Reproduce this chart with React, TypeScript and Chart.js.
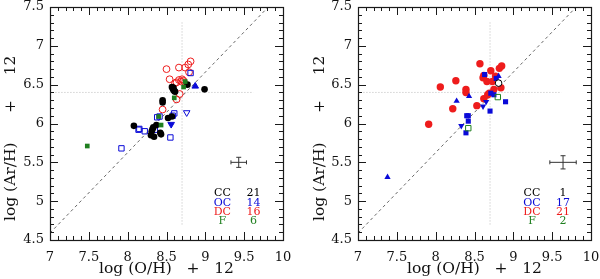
import { useEffect, useRef } from "react";
import { Chart, registerables } from "chart.js";
Chart.register(...registerables);

type Pt = [number, number];

const X_MIN = 7, X_MAX = 10, Y_MIN = 4.5, Y_MAX = 7.5;
const xTickLabels = ["7", "7.5", "8", "8.5", "9", "9.5", "10"];
const yTickLabels = ["4.5", "5", "5.5", "6", "6.5", "7", "7.5"];
const xTitle = "log (O/H)   +   12";
const yTitle = "log (Ar/H)      +     12      ";

const groupNames = ["CC", "OC", "DC", "F"];
const groupColors = ["#000000", "#0a0ad8", "#ee1c1c", "#1f7f1f"];
const leftCounts = [21, 14, 16, 6];
const rightCounts = [1, 17, 21, 2];
const legendRowsY = [5.1, 4.98, 4.86, 4.74];

// reference lines
const diagonalLine: Pt[] = [[7, 4.59], [9.81, 7.5]];
const hLine: Pt[] = [[7.07, 6.4], [9.62, 6.4]];
const vLine: Pt[] = [[8.7, 4.7], [8.7, 7.3]];

// error bars: [x, y, dx, dy]
const leftErrorBar = [9.43, 5.5, 0.1, 0.065];
const rightErrorBar = [9.64, 5.5, 0.17, 0.085];

// ---- left panel ----
const leftCC: Pt[] = [
  [8.08, 5.97], [8.3, 5.85], [8.34, 5.83], [8.31, 5.9], [8.33, 5.95], [8.37, 5.98],
  [8.43, 5.86], [8.42, 5.88], [8.52, 6.07], [8.57, 6.09], [8.45, 6.3], [8.45, 6.27],
  [8.57, 6.47], [8.58, 6.45], [8.59, 6.43], [8.6, 6.42], [8.61, 6.41], [8.77, 6.5],
  [8.99, 6.44], [8.32, 5.93], [8.59, 6.46],
];
const leftOC: Pt[] = [
  [7.92, 5.68], [8.14, 5.92], [8.15, 5.93], [8.22, 5.9], [8.35, 5.92], [8.38, 6.08],
  [8.55, 5.82], [8.58, 6.1], [8.6, 6.13], [8.81, 6.65], [8.87, 6.48], [8.76, 6.14],
  [8.56, 5.99], [8.41, 6.09],
];
const leftOCShapes = ["rect", "rect", "rect", "rect", "rect", "rect", "rect", "rect", "rect", "rect", "triangle", "triangle", "triangle", "rect"];
const leftOCRotation = [0, 0, 0, 0, 0, 0, 0, 0, 0, 0, 0, 180, 180, 0];
const leftOCFilled = [false, false, false, false, false, false, false, false, false, false, true, false, true, false];
const leftDC: Pt[] = [
  [8.5, 6.7], [8.66, 6.72], [8.74, 6.72], [8.78, 6.76], [8.81, 6.8], [8.79, 6.66],
  [8.54, 6.57], [8.63, 6.53], [8.66, 6.56], [8.69, 6.54], [8.72, 6.55], [8.67, 6.38],
  [8.63, 6.31], [8.45, 6.18], [8.61, 6.52], [8.7, 6.57],
];
const leftF: Pt[] = [
  [7.48, 5.71], [8.43, 5.98], [8.4, 6.09], [8.6, 6.33], [8.72, 6.47], [8.74, 6.54],
];

// ---- right panel ----
const rightCC: Pt[] = [[8.81, 6.52]];
const rightOC: Pt[] = [
  [7.38, 5.31], [8.33, 5.97], [8.39, 5.88], [8.4, 6.1], [8.42, 6.1], [8.42, 6.03],
  [8.27, 6.29], [8.43, 6.35], [8.61, 6.22], [8.65, 6.28], [8.7, 6.16], [8.71, 6.39],
  [8.75, 6.37], [8.9, 6.28], [8.63, 6.63], [8.78, 6.58], [8.81, 6.61],
];
const rightOCShapes = ["triangle", "triangle", "rect", "rect", "rect", "rect", "triangle", "triangle", "triangle", "triangle", "rect", "rect", "rect", "rect", "rect", "rect", "triangle"];
const rightOCRotation = [0, 180, 0, 0, 0, 0, 0, 0, 180, 180, 0, 0, 0, 0, 0, 0, 0];
const rightDC: Pt[] = [
  [7.91, 5.99], [8.06, 6.47], [8.26, 6.55], [8.22, 6.19], [8.39, 6.44], [8.39, 6.4],
  [8.53, 6.23], [8.57, 6.77], [8.61, 6.59], [8.62, 6.62], [8.66, 6.54], [8.62, 6.32],
  [8.67, 6.37], [8.69, 6.39], [8.71, 6.68], [8.73, 6.54], [8.75, 6.44], [8.77, 6.61],
  [8.82, 6.71], [8.85, 6.74], [8.84, 6.46],
];
const rightF: Pt[] = [[8.42, 5.94], [8.8, 6.34]];

const toXY = (arr: Pt[]) => arr.map(([x, y]) => ({ x, y }));

const FONT = "DejaVu Serif";

const framePlugin = {
  id: "frameTicks",
  afterDraw(chart: any) {
    const { ctx, chartArea: a, scales } = chart;
    const xs = scales.x, ys = scales.y;
    ctx.save();
    ctx.strokeStyle = "#1a1a1a";
    ctx.lineWidth = 1;
    ctx.beginPath();
    const nx = Math.round((X_MAX - X_MIN) / 0.1);
    for (let i = 0; i <= nx; i++) {
      const px = Math.round(xs.getPixelForValue(X_MIN + i * 0.1)) + 0.5;
      const len = i % 5 === 0 ? 8 : 4;
      ctx.moveTo(px, a.bottom); ctx.lineTo(px, a.bottom - len);
      ctx.moveTo(px, a.top); ctx.lineTo(px, a.top + len);
    }
    const ny = Math.round((Y_MAX - Y_MIN) / 0.1);
    for (let i = 0; i <= ny; i++) {
      const py = Math.round(ys.getPixelForValue(Y_MIN + i * 0.1)) + 0.5;
      const len = i % 5 === 0 ? 8 : 4;
      ctx.moveTo(a.left, py); ctx.lineTo(a.left + len, py);
      ctx.moveTo(a.right, py); ctx.lineTo(a.right - len, py);
    }
    ctx.stroke();
    ctx.lineWidth = 1.2;
    ctx.strokeRect(Math.round(a.left) + 0.5, Math.round(a.top) + 0.5, Math.round(a.right - a.left), Math.round(a.bottom - a.top));
    ctx.restore();
  },
};

const extrasPlugin = {
  id: "extras",
  afterDatasetsDraw(chart: any, _args: any, opts: any) {
    const { ctx, scales } = chart;
    const xs = scales.x, ys = scales.y;
    const [cx, cy, dx, dy] = opts.errorBar;
    const px = xs.getPixelForValue(cx), py = ys.getPixelForValue(cy);
    const x0 = xs.getPixelForValue(cx - dx), x1 = xs.getPixelForValue(cx + dx);
    const y0 = ys.getPixelForValue(cy - dy), y1 = ys.getPixelForValue(cy + dy);
    ctx.save();
    ctx.strokeStyle = "#333";
    ctx.lineWidth = 1;
    ctx.beginPath();
    ctx.moveTo(x0, py); ctx.lineTo(x1, py);
    ctx.moveTo(px, y0); ctx.lineTo(px, y1);
    ctx.moveTo(x0, py - 2); ctx.lineTo(x0, py + 2);
    ctx.moveTo(x1, py - 2); ctx.lineTo(x1, py + 2);
    ctx.moveTo(px - 2.5, y0); ctx.lineTo(px + 2.5, y0);
    ctx.moveTo(px - 2.5, y1); ctx.lineTo(px + 2.5, y1);
    ctx.stroke();
    ctx.font = `11px "${FONT}"`;
    ctx.textAlign = "center";
    ctx.textBaseline = "middle";
    groupNames.forEach((n, i) => {
      ctx.fillStyle = groupColors[i];
      const ly = ys.getPixelForValue(legendRowsY[i]);
      ctx.fillText(n, xs.getPixelForValue(opts.legendX[0]), ly);
      ctx.fillText(String(opts.counts[i]), xs.getPixelForValue(opts.legendX[1]), ly);
    });
    ctx.restore();
  },
};

function lineDs(pts: Pt[], color: string, dash: number[]) {
  return {
    type: "scatter" as const,
    data: toXY(pts),
    showLine: true,
    borderColor: color,
    borderWidth: 1,
    borderDash: dash,
    pointRadius: 0,
    order: 10,
  };
}

function baseOptions(padLeft: number, axisW: number, padRight: number, errorBar: number[], counts: number[], legendX: number[]) {
  return {
    responsive: false,
    animation: false,
    devicePixelRatio: 1,
    layout: { padding: { left: padLeft, right: padRight, top: 7, bottom: 0 } },
    plugins: {
      legend: { display: false },
      tooltip: { enabled: false },
      extras: { errorBar, counts, legendX },
    },
    scales: {
      x: {
        type: "linear",
        min: X_MIN,
        max: X_MAX,
        grid: { display: false, drawTicks: false },
        border: { display: false },
        ticks: {
          stepSize: 0.5,
          maxRotation: 0,
          autoSkip: false,
          padding: 10,
          color: "#111",
          font: { family: FONT, size: 13 },
          callback: (_v: any, i: number) => xTickLabels[i],
        },
        title: {
          display: true,
          text: xTitle,
          color: "#111",
          font: { family: FONT, size: 15.5 },
          padding: { top: 0, bottom: 1 },
        },
        afterFit: (s: any) => {
          s.height = 39;
          s.paddingLeft = 0;
          s.paddingRight = 0;
        },
      },
      y: {
        type: "linear",
        min: Y_MIN,
        max: Y_MAX,
        grid: { display: false, drawTicks: false },
        border: { display: false },
        ticks: {
          stepSize: 0.5,
          autoSkip: false,
          padding: 6,
          color: "#111",
          font: { family: FONT, size: 13 },
          callback: (_v: any, i: number) => yTickLabels[i],
        },
        title: {
          display: true,
          text: yTitle,
          color: "#111",
          font: { family: FONT, size: 15.5 },
          padding: { top: 2, bottom: 0 },
        },
        afterFit: (s: any) => {
          s.width = axisW;
          s.paddingTop = 0;
          s.paddingBottom = 0;
        },
      },
    },
  };
}

const BLUE = "#0a0ad8", RED = "#ee1c1c", GREEN = "#1f7f1f";

function leftConfig(): any {
  return {
    type: "scatter",
    data: {
      datasets: [
        {
          data: toXY(leftCC), backgroundColor: "#000", borderColor: "#000",
          pointStyle: "circle", pointRadius: 3.3, borderWidth: 0, order: 1,
        },
        {
          data: toXY(leftOC), borderColor: BLUE,
          backgroundColor: leftOCFilled.map((f) => (f ? BLUE : "rgba(0,0,0,0)")),
          pointStyle: leftOCShapes, pointRotation: leftOCRotation, pointRadius: 3.8, borderWidth: 1, order: 2,
        },
        {
          data: toXY(leftDC), borderColor: RED, backgroundColor: "rgba(0,0,0,0)",
          pointStyle: "circle", pointRadius: 3.4, borderWidth: 1, order: 3,
        },
        {
          data: toXY(leftF), borderColor: GREEN, backgroundColor: GREEN,
          pointStyle: "rect", pointRadius: 3.3, borderWidth: 0, order: 0,
        },
        lineDs(diagonalLine, "#666", [3, 3]),
        lineDs(hLine, "#bbb", [1, 2]),
        lineDs(vLine, "#bbb", [1, 2]),
      ],
    },
    options: baseOptions(0, 50, 17, leftErrorBar, leftCounts, [9.22, 9.62]),
    plugins: [framePlugin, extrasPlugin],
  };
}

function rightConfig(): any {
  return {
    type: "scatter",
    data: {
      datasets: [
        {
          data: toXY(rightCC), borderColor: "#000", backgroundColor: "#fff",
          pointStyle: "circle", pointRadius: 3.3, borderWidth: 1, order: 0,
        },
        {
          data: toXY(rightOC), borderColor: BLUE, backgroundColor: BLUE,
          pointStyle: rightOCShapes, pointRotation: rightOCRotation, pointRadius: 3.6, borderWidth: 0, order: 1,
        },
        {
          data: toXY(rightDC), borderColor: RED, backgroundColor: RED,
          pointStyle: "circle", pointRadius: 3.7, borderWidth: 0, order: 2,
        },
        {
          data: toXY(rightF), borderColor: GREEN, backgroundColor: "rgba(0,0,0,0)",
          pointStyle: "rect", pointRadius: 3.8, borderWidth: 1, order: 0,
        },
        lineDs(diagonalLine, "#666", [3, 3]),
        lineDs(hLine, "#bbb", [1, 2]),
        lineDs(vLine, "#bbb", [1, 2]),
      ],
    },
    options: baseOptions(9, 49, 9, rightErrorBar, rightCounts, [9.24, 9.64]),
    plugins: [framePlugin, extrasPlugin],
  };
}

export default function App() {
  const leftRef = useRef<HTMLCanvasElement>(null);
  const rightRef = useRef<HTMLCanvasElement>(null);
  useEffect(() => {
    const c1 = new Chart(leftRef.current!, leftConfig());
    const c2 = new Chart(rightRef.current!, rightConfig());
    return () => {
      c1.destroy();
      c2.destroy();
    };
  }, []);
  return (
    <div style={{ position: "fixed", left: 0, top: 0, width: 600, height: 279, background: "#fff" }}>
      <canvas ref={leftRef} width={300} height={279} style={{ position: "absolute", left: 0, top: 0, width: 300, height: 279 }} />
      <canvas ref={rightRef} width={300} height={279} style={{ position: "absolute", left: 300, top: 0, width: 300, height: 279 }} />
    </div>
  );
}
